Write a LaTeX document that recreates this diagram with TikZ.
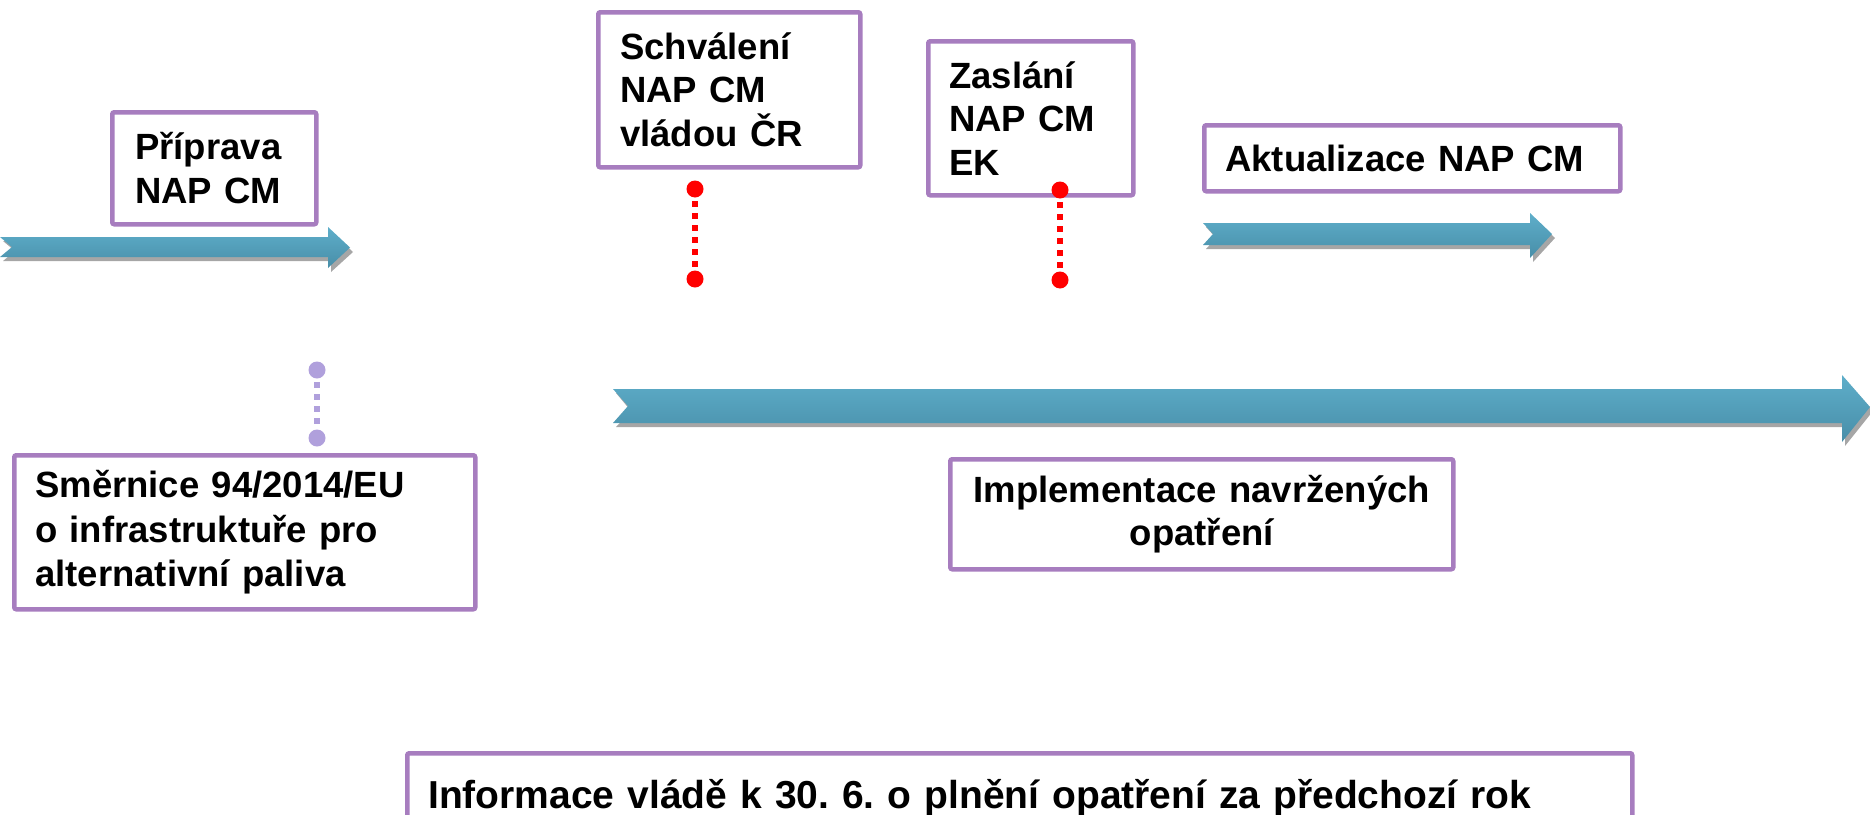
\documentclass[tikz,border=0pt]{standalone}
\usepackage{fontspec}
\setmainfont{Liberation Sans}
\frenchspacing
\definecolor{boxpurple}{RGB}{167,125,191}
\definecolor{lav}{RGB}{176,160,220}
\definecolor{arrtop}{RGB}{94,174,202}
\definecolor{arrbot}{RGB}{72,142,168}
\definecolor{shadowgray}{RGB}{166,166,166}
\begin{document}
\begin{tikzpicture}[x=1pt,y=-1pt,
  box/.style={draw=boxpurple, line width=4.5pt, rounded corners=2pt, fill=white,
    anchor=north west, inner sep=0pt, align=left,
    font=\bfseries\fontsize{36.5}{43.5}\selectfont},
  bluearrow/.style={top color=arrtop, bottom color=arrbot, draw=none},
  arrshadow/.style={fill=shadowgray, draw=none},
  dotline/.style={line width=5.5pt, dash pattern=on 5.5pt off 6.5pt},
]
\useasboundingbox (0,0) rectangle (1870,814);

% ---------- arrows ----------
% left arrow
\fill[arrshadow] (3,241) -- (331,241) -- (331,231) -- (353,252) -- (331,272) -- (331,261) -- (3,261) -- (15,251) -- cycle;
\path[bluearrow] (0,237) -- (328,237) -- (328,227) -- (350,247.5) -- (328,268) -- (328,257) -- (0,257) -- (12,247) -- cycle;
% Aktualizace arrow
\fill[arrshadow] (1206,227) -- (1533,227) -- (1533,217) -- (1555,238) -- (1533,262) -- (1533,249) -- (1206,249) -- (1216,238) -- cycle;
\path[bluearrow] (1203,223) -- (1530,223) -- (1530,213) -- (1552,234) -- (1530,258) -- (1530,245) -- (1203,245) -- (1213,234) -- cycle;
% big arrow
\fill[arrshadow] (616,393) -- (1845,393) -- (1845,379) -- (1873,411) -- (1845,446) -- (1845,427) -- (616,427) -- (631,411) -- cycle;
\path[bluearrow] (613,389) -- (1842,389) -- (1842,375) -- (1870,407) -- (1842,442) -- (1842,423) -- (613,423) -- (628,406) -- cycle;

% ---------- boxes ----------
\node[box, minimum width=204pt, minimum height=112pt, text width=158pt] (priprava) at (110,110) {Příprava\\NAP CM};
\node[box, minimum width=262pt, minimum height=155pt, text width=218pt] (schvaleni) at (596,10) {Schválení\\NAP CM\\vládou ČR};
\node[box, minimum width=205pt, minimum height=154pt, text width=163pt] (zaslani) at (926,39) {Zaslání\\NAP CM\\EK};
\node[box, minimum width=416pt, minimum height=66pt, text width=374pt] (aktualizace) at (1202,123) {Aktualizace NAP CM};
\node[box, minimum width=461pt, minimum height=154pt, text width=419pt, font=\bfseries\fontsize{36.5}{44.5}\selectfont] (smernice) at (12,453) {Směrnice 94/2014/EU\\o infrastruktuře pro\\alternativní paliva};
\node[box, minimum width=503pt, minimum height=110pt, text width=470pt, align=center] (implementace) at (948,457) {Implementace navržených\\opatření};
\node[box, minimum width=1225pt, minimum height=90pt, text width=1183pt, font=\bfseries\fontsize{39}{46}\selectfont] (informace) at (405,751) {Informace vládě k 30. 6. o plnění opatření za předchozí rok};

% ---------- dotted connectors ----------
\coordinate (lavtop) at (317,370);
\coordinate (lavbot) at (317,438);
\draw[lav, dotline] (lavtop) -- (lavbot);
\fill[lav] (lavtop) circle (8.5);
\fill[lav] (lavbot) circle (8.5);

\coordinate (redAtop) at (695,189);
\coordinate (redAbot) at (695,279);
\draw[red, dotline] (redAtop) -- (redAbot);
\fill[red] (redAtop) circle (8.5);
\fill[red] (redAbot) circle (8.5);

\coordinate (redBtop) at (1060,190);
\coordinate (redBbot) at (1060,280);
\draw[red, dotline] (redBtop) -- (redBbot);
\fill[red] (redBtop) circle (8.5);
\fill[red] (redBbot) circle (8.5);
\end{tikzpicture}
\end{document}
